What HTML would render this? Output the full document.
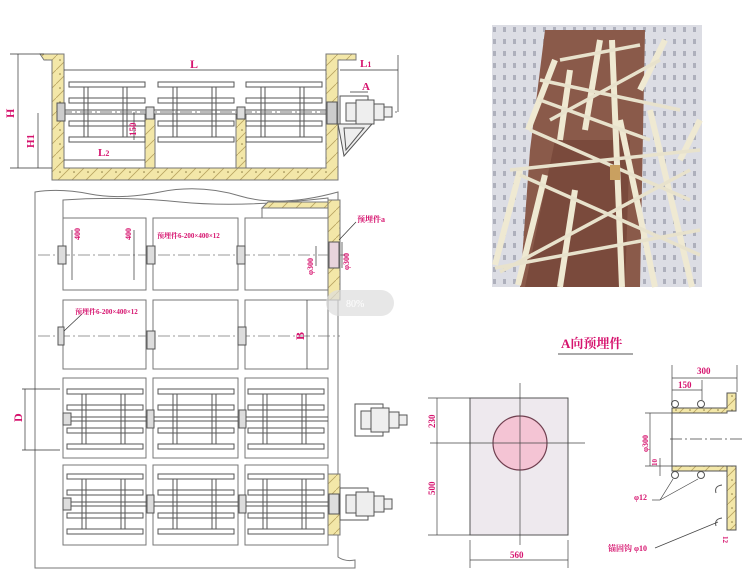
<!DOCTYPE html>
<html><head><meta charset="utf-8"><style>
html,body{margin:0;padding:0;background:#fff;}
svg{display:block;font-family:"Liberation Serif","Noto Serif CJK SC",serif;}
.p{fill:#d6136e;font-weight:bold;}
</style></head><body>
<svg width="750" height="585" viewBox="0 0 750 585" xmlns="http://www.w3.org/2000/svg">
<defs>
<g id="pu" stroke="#555" stroke-width="1" fill="#fff">
 <rect x="0" y="-30" width="76" height="5"/>
 <rect x="0" y="-14" width="76" height="5"/>
 <rect x="0" y="9" width="76" height="5"/>
 <rect x="0" y="25" width="76" height="5"/>
 <line x1="15" y1="-25" x2="15" y2="25"/><line x1="19" y1="-25" x2="19" y2="25"/>
 <line x1="54" y1="-25" x2="54" y2="25"/><line x1="58" y1="-25" x2="58" y2="25"/>
 <line x1="-4" y1="-2" x2="80" y2="-2"/><line x1="-4" y1="2" x2="80" y2="2"/>
</g>
<g id="mot" stroke="#555" stroke-width="1" fill="#eee">
 <rect x="0" y="-16" width="28" height="32" fill="#fff"/>
 <rect x="6" y="-9" width="10" height="18"/>
 <rect x="16" y="-12" width="18" height="24"/>
 <rect x="34" y="-8" width="10" height="16"/>
 <rect x="44" y="-5" width="8" height="10"/>
</g>
<pattern id="conc" width="14" height="14" patternUnits="userSpaceOnUse">
 <rect width="14" height="14" fill="#f3e7a8"/>
 <line x1="0" y1="14" x2="14" y2="0" stroke="#b9a460" stroke-width="0.8"/>
 <circle cx="4" cy="4" r="0.8" fill="#8a7a40"/>
</pattern>
<pattern id="wall" width="10" height="12" patternUnits="userSpaceOnUse">
 <rect width="10" height="12" fill="#dcdde4"/>
 <rect x="3" y="3" width="3" height="5" fill="#aeb0bc"/>
</pattern>
</defs>

<!-- TOP SECTION -->
<g stroke="#777" stroke-width="1" fill="url(#conc)">
 <path d="M40 54 H64 V168 H326 V54 H356 V60 H338 V180 H52 V60 H44 Z"/>
 <rect x="145" y="115" width="10" height="53"/>
 <rect x="236" y="115" width="10" height="53"/>
</g>
<use href="#pu" x="69" y="112"/>
<use href="#pu" x="158" y="112"/>
<use href="#pu" x="246" y="112"/>
<line x1="60" y1="112" x2="400" y2="112" stroke="#777" stroke-dasharray="12,3,2,3"/>
<rect x="57" y="103" width="8" height="18" fill="#ccc" stroke="#555"/>
<rect x="146" y="107" width="8" height="12" fill="#ddd" stroke="#555"/>
<rect x="237" y="107" width="8" height="12" fill="#ddd" stroke="#555"/>
<rect x="327" y="102" width="10" height="22" fill="#ccc" stroke="#555"/>
<use href="#mot" x="340" y="112"/>
<path d="M338 124 H372 L344 156 Z M344 128 H364 L346 150 Z" fill="#eee" stroke="#555"/>
<g stroke="#333" stroke-width="0.7" fill="none">
 <line x1="64" y1="70" x2="326" y2="70"/>
 <line x1="340" y1="70" x2="398" y2="70"/>
 <line x1="398" y1="55" x2="398" y2="112"/>
 <line x1="18" y1="54" x2="18" y2="168"/>
 <line x1="10" y1="54" x2="44" y2="54"/>
 <line x1="10" y1="168" x2="52" y2="168"/>
 <line x1="38" y1="113" x2="38" y2="168"/>
 <line x1="64" y1="160" x2="145" y2="160"/>
 <line x1="134" y1="112" x2="134" y2="140"/>
 <line x1="350" y1="92" x2="368" y2="92"/>
</g>
<text x="190" y="68" class="p" font-size="12">L</text>
<text x="360" y="67" class="p" font-size="11">L<tspan font-size="8">1</tspan></text>
<text x="362" y="90" class="p" font-size="11">A</text>
<text x="14" y="118" class="p" font-size="12" transform="rotate(-90 14 118)">H</text>
<text x="34" y="148" class="p" font-size="11" transform="rotate(-90 34 148)">H1</text>
<text x="98" y="156" class="p" font-size="11">L<tspan font-size="8">2</tspan></text>
<text x="136" y="136" class="p" font-size="9" transform="rotate(-90 136 136)">150</text>

<!-- PLAN VIEW -->
<g stroke="#777" stroke-width="1" fill="none">
 <path d="M35 568 V192 Q60 188 90 194 T160 192 T240 196 T338 192 V557 Q345 562 355 560 V568 Z" fill="#fff"/>
 <path d="M63 218 V200 Q120 196 180 202 T328 198 V208 H262 V218" />
 <rect x="63" y="218" width="83" height="72"/><rect x="153" y="218" width="85" height="72"/><rect x="245" y="218" width="83" height="72"/>
 <rect x="63" y="300" width="83" height="69"/><rect x="153" y="300" width="85" height="69"/><rect x="245" y="300" width="83" height="69"/>
 <rect x="63" y="378" width="83" height="80"/><rect x="153" y="378" width="85" height="80"/><rect x="245" y="378" width="83" height="80"/>
 <rect x="63" y="465" width="83" height="80"/><rect x="153" y="465" width="85" height="80"/><rect x="245" y="465" width="83" height="80"/>
</g>
<path d="M328 200 H340 V300 H328 Z" fill="url(#conc)" stroke="#777"/>
<path d="M262 208 L268 202 H328 V208 Z" fill="url(#conc)" stroke="#777"/>
<path d="M328 474 H340 V535 H328 Z" fill="url(#conc)" stroke="#777"/>
<g stroke="#777" stroke-dasharray="12,3,2,3" stroke-width="0.8">
 <line x1="38" y1="255" x2="345" y2="255"/>
 <line x1="38" y1="336" x2="340" y2="336"/>
</g>
<g fill="#ddd" stroke="#555">
 <rect x="58" y="246" width="8" height="18"/><rect x="147" y="246" width="8" height="18"/><rect x="237" y="246" width="8" height="18"/>
 <rect x="58" y="327" width="6" height="18"/><rect x="147" y="331" width="8" height="18"/><rect x="238" y="327" width="8" height="18"/>
 <rect x="329" y="242" width="10" height="26" fill="#e8d4dc"/>
</g>
<use href="#pu" x="67" y="419"/><use href="#pu" x="158" y="419"/><use href="#pu" x="248" y="419"/>
<use href="#pu" x="67" y="504"/><use href="#pu" x="158" y="504"/><use href="#pu" x="248" y="504"/>
<g fill="#ddd" stroke="#555">
 <rect x="63" y="413" width="8" height="12"/><rect x="147" y="410" width="7" height="18"/><rect x="239" y="410" width="7" height="18"/>
 <rect x="63" y="498" width="8" height="12"/><rect x="147" y="495" width="7" height="18"/><rect x="239" y="495" width="7" height="18"/>
 <rect x="329" y="494" width="10" height="20"/>
</g>
<use href="#mot" x="355" y="420"/>
<use href="#mot" x="340" y="504"/>
<g stroke="#333" stroke-width="0.7">
 <line x1="25" y1="389" x2="25" y2="450"/><line x1="22" y1="389" x2="60" y2="389"/><line x1="22" y1="450" x2="60" y2="450"/>
 <line x1="307" y1="300" x2="307" y2="369"/>
 <line x1="72" y1="230" x2="72" y2="280"/><line x1="134" y1="230" x2="134" y2="280"/>
 <line x1="316" y1="246" x2="316" y2="266"/><line x1="342" y1="242" x2="342" y2="268"/>
 <line x1="339" y1="240" x2="356" y2="222"/>
 <line x1="64" y1="331" x2="82" y2="314"/>
</g>
<text x="22" y="422" class="p" font-size="12" transform="rotate(-90 22 422)">D</text>
<text x="304" y="340" class="p" font-size="12" transform="rotate(-90 304 340)">B</text>
<text x="80" y="240" class="p" font-size="8" transform="rotate(-90 80 240)">400</text>
<text x="131" y="240" class="p" font-size="8" transform="rotate(-90 131 240)">400</text>
<text x="157" y="238" class="p" font-size="7">预埋件6-200×400×12</text>
<text x="75" y="314" class="p" font-size="7">预埋件6-200×400×12</text>
<text x="357" y="222" class="p" font-size="8">预埋件a</text>
<text x="313" y="275" class="p" font-size="8" transform="rotate(-90 313 275)">φ300</text>
<text x="349" y="270" class="p" font-size="8" transform="rotate(-90 349 270)">φ300</text>
<rect x="326" y="290" width="68" height="26" rx="13" fill="#ddd" opacity="0.7"/>
<text x="346" y="307" font-size="10" fill="#fff">80%</text>

<!-- PHOTO -->
<g>
 <rect x="492" y="25" width="210" height="262" fill="url(#wall)"/>
 <polygon points="545,30 645,30 640,287 520,287 530,150" fill="#8a5a4a"/>
 <polygon points="555,140 630,140 625,287 525,287" fill="#7a4a3c"/>
 <g stroke="#efe9d2" stroke-width="6" fill="none">
  <line x1="528" y1="130" x2="555" y2="60"/><line x1="560" y1="140" x2="570" y2="70"/>
  <line x1="518" y1="285" x2="545" y2="175"/><line x1="560" y1="287" x2="575" y2="190"/>
  <line x1="655" y1="287" x2="620" y2="120"/><line x1="692" y1="287" x2="650" y2="110"/>
  <line x1="622" y1="287" x2="612" y2="40"/>
  <line x1="495" y1="265" x2="520" y2="170"/>
  <line x1="680" y1="160" x2="700" y2="120"/>
  <line x1="640" y1="90" x2="665" y2="40"/>
  <line x1="585" y1="130" x2="600" y2="40"/>
 </g>
 <g stroke="#e8e2cc" stroke-width="3.5" fill="none">
  <line x1="510" y1="170" x2="700" y2="150"/><line x1="495" y1="268" x2="700" y2="230"/>
  <line x1="530" y1="130" x2="690" y2="200"/><line x1="520" y1="175" x2="700" y2="255"/>
  <line x1="540" y1="80" x2="680" y2="110"/><line x1="550" y1="120" x2="660" y2="60"/>
  <line x1="500" y1="272" x2="690" y2="170"/><line x1="540" y1="100" x2="650" y2="140"/>
  <line x1="560" y1="60" x2="640" y2="45"/>
 </g>
 <rect x="610" y="165" width="10" height="15" fill="#c9a060"/>
</g>

<!-- A VIEW -->
<text x="561" y="348" class="p" font-size="13">A向预埋件</text>
<line x1="558" y1="354" x2="633" y2="354" stroke="#555"/>
<rect x="470" y="398" width="98" height="137" fill="#eee9ee" stroke="#555"/>
<circle cx="520" cy="443" r="27" fill="#f4c4d4" stroke="#704050" stroke-width="1.2"/>
<g stroke="#444" stroke-width="0.7">
 <line x1="520" y1="383" x2="520" y2="545"/>
 <line x1="430" y1="443" x2="585" y2="443"/>
 <line x1="437" y1="398" x2="437" y2="535"/>
 <line x1="428" y1="398" x2="470" y2="398"/><line x1="428" y1="535" x2="470" y2="535"/>
 <line x1="470" y1="540" x2="470" y2="568"/><line x1="568" y1="540" x2="568" y2="568"/>
 <line x1="470" y1="560" x2="568" y2="560"/>
</g>
<text x="435" y="428" class="p" font-size="9" transform="rotate(-90 435 428)">230</text>
<text x="435" y="495" class="p" font-size="9" transform="rotate(-90 435 495)">500</text>
<text x="510" y="558" class="p" font-size="9">560</text>
<g stroke="#555" stroke-width="1">
 <path d="M672 408 H727 V393 H736 V411 H727 V413 H672 Z" fill="url(#conc)"/>
 <path d="M672 466 H727 V471 H672 Z M727 466 H736 V530 H727 Z" fill="url(#conc)"/>
 <line x1="672" y1="413" x2="672" y2="466"/>
 <circle cx="675" cy="404" r="3.5" fill="#fff"/><circle cx="701" cy="404" r="3.5" fill="#fff"/>
 <circle cx="675" cy="475" r="3.5" fill="#fff"/><circle cx="701" cy="475" r="3.5" fill="#fff"/>
 <path d="M722 485 Q714 486 716 493" fill="none"/><path d="M722 518 Q714 519 716 526" fill="none"/>
</g>
<g stroke="#444" stroke-width="0.7">
 <line x1="670" y1="439" x2="745" y2="439" stroke-dasharray="12,3,2,3"/>
 <line x1="672" y1="378" x2="737" y2="378"/>
 <line x1="672" y1="390" x2="702" y2="390"/>
 <line x1="672" y1="365" x2="672" y2="405"/><line x1="737" y1="365" x2="737" y2="392"/>
 <line x1="702" y1="380" x2="702" y2="400"/>
 <line x1="645" y1="413" x2="672" y2="413"/><line x1="645" y1="466" x2="672" y2="466"/>
 <line x1="650" y1="413" x2="650" y2="466"/>
 <line x1="660" y1="458" x2="660" y2="476"/>
 <line x1="660" y1="500" x2="673" y2="479"/><line x1="660" y1="500" x2="698" y2="479"/>
 <line x1="652" y1="500" x2="660" y2="500"/>
 <line x1="655" y1="548" x2="718" y2="522"/>
</g>
<text x="697" y="374" class="p" font-size="9">300</text>
<text x="678" y="388" class="p" font-size="9">150</text>
<text x="648" y="452" class="p" font-size="8" transform="rotate(-90 648 452)">φ300</text>
<text x="657" y="466" class="p" font-size="7" transform="rotate(-90 657 466)">10</text>
<text x="634" y="500" class="p" font-size="8">φ12</text>
<text x="608" y="551" class="p" font-size="8">锚固钩 φ10</text>
<text x="731" y="544" class="p" font-size="7" transform="rotate(90 731 536)">12</text>
</svg>
</body></html>
